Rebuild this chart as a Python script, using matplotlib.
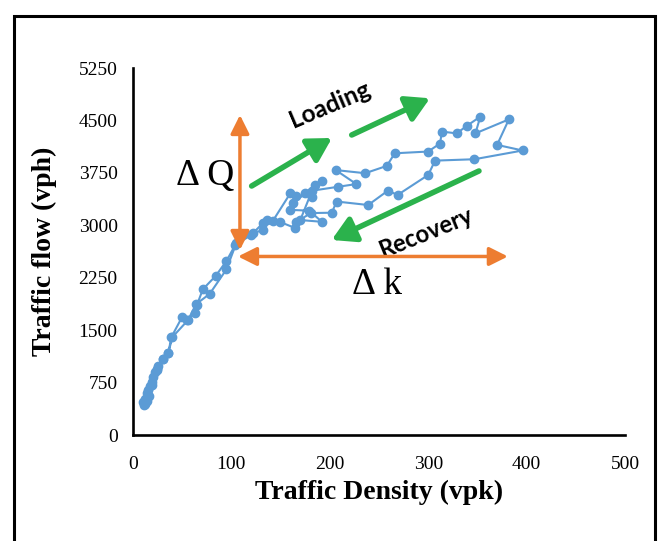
import matplotlib
matplotlib.use("Agg")
import matplotlib.pyplot as plt
from matplotlib.patches import Rectangle

# traffic density (vpk) / flow (vph) time series, in recorded order
density = [11, 10, 12, 14, 15, 17, 19, 20, 22, 24, 25, 30, 36, 39, 50, 55, 63, 65,
           71, 84, 95, 104, 120, 132, 142, 160, 166, 182, 192, 185, 175, 163, 160,
           179, 192, 170, 182, 208, 227, 206, 236, 258, 266, 300, 312, 314, 329,
           339, 353, 348, 382, 370, 396, 347, 307, 300, 269, 259, 239, 207, 202,
           181, 166, 165, 149, 136, 132, 122, 105, 95, 78, 64, 56, 40, 36, 31, 24,
           19, 16, 14, 12]
flow = [430, 470, 520, 600, 650, 700, 760, 830, 900, 950, 990, 1090, 1180, 1400,
        1690, 1650, 1750, 1860, 2085, 2275, 2490, 2720, 2860, 3030, 3060, 3460,
        3420, 3410, 3640, 3575, 3460, 3320, 3220, 3210, 3050, 3075, 3495, 3550,
        3590, 3790, 3745, 3850, 4030, 4055, 4170, 4340, 4315, 4420, 4555, 4315,
        4515, 4150, 4070, 3945, 3925, 3720, 3435, 3495, 3290, 3340, 3180, 3175,
        3050, 2960, 3050, 3075, 2930, 2890, 2745, 2370, 2020, 1870, 1645, 1400,
        1180, 1090, 930, 720, 560, 480, 440]

x_ticks = [0, 100, 200, 300, 400, 500]
y_ticks = [0, 750, 1500, 2250, 3000, 3750, 4500, 5250]

# capacity-drop markers (delta k, delta Q)
dq_x, dq_low, dq_high = 108.7, 2647, 4578
dk_y, dk_low, dk_high = 2554, 106.7, 381

blue = "#5B9BD5"
orange = "#ED7D31"
green = "#2BB24C"
serif = "Liberation Serif"

fig = plt.figure(figsize=(6.59, 5.41), dpi=100)
ax = fig.add_axes([0.2018, 0.1959, 0.7466, 0.6784])

ax.plot(density, flow, color=blue, lw=1.5, marker="o", ms=6,
        markeredgecolor=blue, zorder=3)

ax.set_xlim(0, 500)
ax.set_ylim(0, 5250)
ax.set_xticks(x_ticks)
ax.set_yticks(y_ticks)
ax.tick_params(length=0, labelsize=14)
ax.tick_params(axis="x", pad=15)
ax.tick_params(axis="y", pad=11)
for lab in ax.get_xticklabels() + ax.get_yticklabels():
    lab.set_fontfamily(serif)
for s in ["top", "right"]:
    ax.spines[s].set_visible(False)
for s in ["left", "bottom"]:
    ax.spines[s].set_linewidth(1.9)

ax.set_xlabel("Traffic Density (vpk)", fontsize=20, fontweight="bold", family=serif)
ax.set_ylabel("Traffic flow (vph)", fontsize=20, fontweight="bold", family=serif)
ax.xaxis.set_label_coords(0.5, -0.122)
ax.yaxis.set_label_coords(-0.155, 0.5)

# orange double arrows
ax.annotate("", xy=(dq_x, dq_high), xytext=(dq_x, dq_low),
            arrowprops=dict(arrowstyle="<|-|>,head_length=0.7,head_width=0.35",
                            color=orange, lw=2.5, shrinkA=0, shrinkB=0,
                            mutation_scale=16), zorder=4)
ax.annotate("", xy=(dk_high, dk_y), xytext=(dk_low, dk_y),
            arrowprops=dict(arrowstyle="<|-|>,head_length=0.7,head_width=0.35",
                            color=orange, lw=2.5, shrinkA=0, shrinkB=0,
                            mutation_scale=16), zorder=4)

ax.text(72.9, 3705, "Δ Q", fontsize=27, family=serif, ha="center", va="center")
ax.text(248, 2146, "Δ k", fontsize=27, family=serif, ha="center", va="center")

# green direction arrows
green_arrows = [((120.6, 3562), (202.2, 4249)),
                ((222.3, 4292), (301.8, 4817)),
                ((351.6, 3777), (201.9, 2790))]
for tail, tip in green_arrows:
    ax.annotate("", xy=tip, xytext=tail,
                arrowprops=dict(arrowstyle="-|>,head_length=0.7,head_width=0.4",
                                color=green, lw=4, shrinkA=0, shrinkB=0,
                                mutation_scale=20), zorder=4)

ax.text(200, 4730, "Loading", fontsize=17.5, fontweight="bold", family="Lato",
        rotation=23, ha="center", va="center")
ax.text(297.7, 2890, "Recovery", fontsize=17, fontweight="bold", family="Lato",
        rotation=22, ha="center", va="center")

# outer frame
fig.patches.append(Rectangle((14 / 659, -0.1), 641 / 659, 1.1 - 16 / 541,
                             transform=fig.transFigure, fill=False,
                             edgecolor="black", lw=2.2))

fig.savefig("out.png", dpi=100)
